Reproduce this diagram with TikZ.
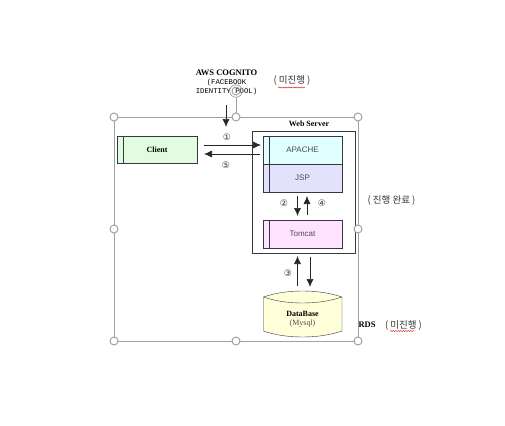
\documentclass[tikz,border=0pt]{standalone}
\usepackage{fontspec}
\setmainfont{Liberation Serif}
\setsansfont{Liberation Sans}
\setmonofont{Liberation Mono}
\newfontfamily\krfont{Noto Sans CJK KR}
\newfontfamily\numfont{DejaVu Sans}
\usetikzlibrary{shapes.geometric,arrows.meta,decorations.pathmorphing}
\definecolor{linegray}{RGB}{55,55,65}
\definecolor{handlegray}{RGB}{160,160,160}
\definecolor{clientgreen}{RGB}{226,252,226}
\definecolor{apachecyan}{RGB}{224,255,255}
\definecolor{jspblue}{RGB}{226,226,252}
\definecolor{tomcatpink}{RGB}{255,226,255}
\definecolor{dbyellow}{RGB}{255,255,218}
\tikzset{
  layerbox/.style={draw=linegray,minimum width=79pt,minimum height=27.5pt,inner sep=0pt,
    font=\sffamily\fontsize{8}{9}\selectfont,text=black!70},
  handle/.style={circle,draw=handlegray,fill=white,line width=1pt,minimum size=8pt,inner sep=0pt},
  flow/.style={-{Latex[length=8pt,width=7pt]},line width=0.7pt,black!85},
  numlabel/.style={font=\numfont\fontsize{9}{10}\selectfont,text=black!80},
  krlabel/.style={font=\krfont\fontsize{9.5}{10}\selectfont,text=black!80},
  titlelabel/.style={font=\bfseries\fontsize{8}{9}\selectfont},
  wavy/.style={red!80!black,line width=0.4pt,decorate,decoration={snake,amplitude=0.5pt,segment length=2.5pt}}
}
\begin{document}
\begin{tikzpicture}[x=1pt,y=-1pt]
  \useasboundingbox (0,0) rectangle (505,425);

  % selection frame
  \coordinate (nw) at (114,117);
  \coordinate (ne) at (358,117);
  \coordinate (sw) at (114,341);
  \coordinate (se) at (358,341);
  \draw[handlegray,line width=0.8pt] (nw) -- (ne) -- (se) -- (sw) -- cycle;

  % boxes
  \node[draw=linegray,minimum width=103pt,minimum height=122pt] (server) at (303.5,192) {};
  \node[layerbox,minimum width=80pt,fill=clientgreen,text=black,font=\bfseries\fontsize{8}{9}\selectfont] (client) at (157,149.5) {Client};
  \node[layerbox,fill=apachecyan] (apache) at (302.5,150) {APACHE};
  \node[layerbox,fill=jspblue] (jsp) at (302.5,178) {JSP};
  \node[layerbox,fill=tomcatpink] (tomcat) at (302.5,234) {Tomcat};
  \draw[linegray] ([xshift=6pt]client.north west) -- ([xshift=6pt]client.south west);
  \draw[linegray] ([xshift=6pt]apache.north west) -- ([xshift=6pt]jsp.south west);
  \draw[linegray] ([xshift=6pt]tomcat.north west) -- ([xshift=6pt]tomcat.south west);

  % database
  \draw[linegray,fill=dbyellow] (263.5,297) -- (263.5,331) .. controls (275,335) and (288,337) .. (302.5,337)
    .. controls (317,337) and (330,335) .. (342,331) -- (342,297)
    .. controls (330,293) and (317,291) .. (302.5,291) .. controls (288,291) and (275,293) .. (263.5,297) -- cycle;
  \draw[linegray] (263.5,297) .. controls (275,301) and (288,303) .. (302.5,303)
    .. controls (317,303) and (330,301) .. (342,297);
  \node[titlelabel] (dbname) at (302.5,314) {DataBase};
  \node[font=\fontsize{8}{9}\selectfont,text=black!70] (dbsub) at (302.5,324) {(Mysql)};

  % free ends of the arrows
  \coordinate (a1) at (226,105);
  \coordinate (a2) at (226,127);
  \coordinate (b1) at (204,145);
  \coordinate (b2) at (261,145);
  \coordinate (c1) at (260,154);
  \coordinate (c2) at (204,154);
  \coordinate (d1) at (297.5,196);
  \coordinate (d2) at (297.5,216);
  \coordinate (e1) at (307,215);
  \coordinate (e2) at (307,196);
  \coordinate (f1) at (297.5,286);
  \coordinate (f2) at (297.5,256);
  \coordinate (g1) at (310,257);
  \coordinate (g2) at (310,287);

  \draw[flow] (a1) -- (a2);
  \draw[flow] (b1) -- (b2);
  \draw[flow] (c1) -- (c2);
  \draw[flow] (d1) -- (d2);
  \draw[flow] (e1) -- (e2);
  \draw[flow] (f1) -- (f2);
  \draw[flow] (g1) -- (g2);

  \begin{scope}[every node/.style={numlabel}]
    \node (n1) at (227,137) {①};
    \node (n5) at (226,165) {⑤};
    \node (n2) at (284,203) {②};
    \node (n4) at (322,203) {④};
    \node (n3) at (288,273) {③};
  \end{scope}

  % labels
  \node[font=\bfseries\fontsize{8.5}{9}\selectfont] (cognito) at (226.5,73) {AWS COGNITO};
  \node[font=\ttfamily\fontsize{7.3}{8}\selectfont] (facebook) at (226.5,83) {(FACEBOOK};
  \node[font=\ttfamily\fontsize{7.3}{8}\selectfont] (pool) at (226.5,92) {IDENTITY POOL)};
  \node[titlelabel] (webserver) at (309,124) {Web Server};
  \node[font=\bfseries\fontsize{8.5}{9}\selectfont] (rds) at (367,325) {RDS};

  \begin{scope}[every node/.style={krlabel}]
    \node (todo1) at (292,81) {( 미진행 )};
    \node (done) at (391.5,201) {( 진행 완료 )};
    \node (todo2) at (403.5,325) {( 미진행 )};
  \end{scope}
  \draw[wavy] (278,87.5) -- (305,87.5);
  \draw[wavy] (390,331) -- (415,331);

  % handles
  \draw[handlegray,line width=0.8pt] (236,97) -- (236,117);
  \node[circle,draw=handlegray,line width=0.9pt,minimum size=8pt,inner sep=0pt] (rotate) at (236,91) {};
  \node[circle,draw=handlegray,line width=0.7pt,minimum size=12.5pt,inner sep=0pt] (rotateout) at (236,91) {};
  \begin{scope}[every node/.style={handle}]
    \node (h1) at (nw) {};
    \node (h2) at (236,117) {};
    \node (h3) at (ne) {};
    \node (h4) at (114,229) {};
    \node (h5) at (358,229) {};
    \node (h6) at (sw) {};
    \node (h7) at (236,341) {};
    \node (h8) at (se) {};
  \end{scope}

\end{tikzpicture}
\end{document}
